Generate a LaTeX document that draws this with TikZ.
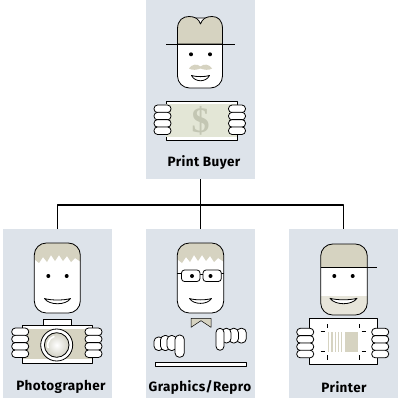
\documentclass[tikz,border=0pt]{standalone}
\usepackage{fontspec}
\setmainfont{Fira Sans}
\newfontfamily\dollarfont{Liberation Serif}
\definecolor{panel}{HTML}{DDE3EA}
\definecolor{hair}{HTML}{D6D3C1}
\definecolor{bill}{HTML}{E3E6D6}
\definecolor{dollar}{HTML}{C3C6B3}
\definecolor{chin}{HTML}{E7E5DA}
\definecolor{lens}{HTML}{D2D1C4}

% a hand seen from the side: four stacked fingers
\newcommand\handrow[2]{%
  \foreach \k in {0,1,2,3}{%
    \draw[ink, fill=white, rounded corners=3.6pt] (#1,{#2+\k*7.3}) rectangle ++(17,7.6);
  }}

\begin{document}
\begin{tikzpicture}[x=1pt,y=-1pt, line join=round,
  panelbox/.style={fill=panel, draw=none, inner sep=0pt, minimum width=109pt, anchor=north west},
  caption/.style={font=\bfseries\fontsize{13.5}{15}\selectfont\addfontfeature{LetterSpace=3}, inner sep=0pt},
  wire/.style={line width=1.1pt},
  ink/.style={line width=0.8pt, draw=black},
  thin/.style={line width=0.5pt, draw=black},
  head/.style={ink, rounded corners=12pt},
  eye/.style={fill=black}]
\useasboundingbox (0,0) rectangle (397,401);

% ---------- panels ----------
\node[panelbox, minimum height=181pt] (buyer) at (146,-2) {};
\node[panelbox, minimum height=169pt] (photo) at (3,229) {};
\node[panelbox, minimum height=169pt] (repro) at (146,229) {};
\node[panelbox, minimum height=169pt] (printer) at (289,229) {};

% ---------- connectors ----------
\coordinate (bus) at (200.5,205);
\draw[wire] (buyer.south) -- (repro.north);
\draw[wire] (photo.north) |- (bus) -| (printer.north);

% ---------- print buyer ----------
\fill[white, rounded corners=12pt] (177.5,18) rectangle (222.5,88);
\draw[head] (177.5,18) rectangle (222.5,88);
\filldraw[ink, fill=hair] (177.5,44) -- (177.5,29)
  .. controls (177.5,20) and (183,16.5) .. (189,16.5)
  .. controls (195,16.5) and (199,19) .. (200.5,24)
  .. controls (202,19) and (206,16.5) .. (212,16.5)
  .. controls (218,16.5) and (222.5,20) .. (222.5,29) -- (222.5,44) -- cycle;
\draw[ink] (166,44) -- (235,44);
\fill[eye] (191,54.3) circle[radius=2pt] (210,54.3) circle[radius=2pt];
\fill[hair] (200.5,66.5) .. controls (197,63.5) and (192,64) .. (189,68.5)
  .. controls (192,70.5) and (197,70) .. (200.5,68.5)
  .. controls (204,70) and (209,70.5) .. (212,68.5)
  .. controls (209,64) and (204,63.5) .. (200.5,66.5) -- cycle;
\filldraw[ink, fill=white] (191.5,75.5) .. controls (196,77) and (205,77) .. (209.5,75.5)
  .. controls (206,82.5) and (195,82.5) .. cycle;
% banknote
\filldraw[ink, fill=white] (166,101) rectangle (237,140);
\fill[bill] (166.4,104.5) rectangle (236.6,136.5);
\node[text=dollar, inner sep=0pt, font=\dollarfont\bfseries\fontsize{36}{36}\selectfont] (buck) at (200.5,121) {\$};
\handrow{154}{105}
\handrow{228.5}{105}
\node[caption] (buyertext) at (204,163) {Print Buyer};

% ---------- photographer ----------
\fill[white, rounded corners=12pt] (34.3,243) rectangle (80.3,313);
\begin{scope}
  \clip[rounded corners=12pt] (34.3,243) rectangle (80.3,313);
  \fill[hair] (34,243) -- (34,259) -- (39,263) -- (43,257) -- (47,262) -- (51,255)
    -- (55,261) -- (59,255) -- (63,261) -- (67,256) -- (71,262) -- (75,258) -- (81,262) -- (81,243) -- cycle;
\end{scope}
\draw[head] (34.3,243) rectangle (80.3,313);
\fill[eye] (48.3,276) circle[radius=2pt] (66.7,276) circle[radius=2pt];
\filldraw[ink, fill=white] (44.5,298.5) .. controls (51,300.5) and (64,300.5) .. (70.5,298.5)
  .. controls (66,305.5) and (49,305.5) .. cycle;
% camera
\filldraw[ink, fill=white] (43.3,319.3) rectangle (71.7,326);
\fill[white] (22.7,325) rectangle (92.7,363.3);
\fill[hair] (22.7,329) rectangle (92.7,359);
\draw[ink] (22.7,325) rectangle (92.7,363.3);
\filldraw[ink, fill=white] (56.7,345) circle[radius=16pt];
\shade[inner color=white, outer color=lens] (56.7,345) circle[radius=12.3pt];
\draw[ink] (56.7,345) circle[radius=12.3pt];
\draw[white, line width=1.6pt] (56.7,345) ++(105:9pt) arc[start angle=105, end angle=200, radius=9pt];
\handrow{11.7}{328}
\handrow{85}{328}
\node[caption] (phototext) at (61,387) {Photographer};

% ---------- graphics / repro ----------
\fill[white, rounded corners=12pt] (177.3,243) rectangle (223.7,313);
\begin{scope}
  \clip[rounded corners=12pt] (177.3,243) rectangle (223.7,313);
  \fill[hair] (177,243) -- (177,259) -- (182,263) -- (186,257) -- (190,262) -- (194,255)
    -- (198,261) -- (202,255) -- (206,261) -- (210,256) -- (214,262) -- (218,258) -- (224,262) -- (224,243) -- cycle;
\end{scope}
\draw[head] (177.3,243) rectangle (223.7,313);
% spectacles
\draw[ink] (177.3,273) -- (181.5,273) (200,274) -- (203,274) (221,273) -- (223.7,273);
\filldraw[ink, fill=white, rounded corners=3pt] (181.5,270) rectangle (200,281.5);
\filldraw[ink, fill=white, rounded corners=3pt] (203,270) rectangle (221.3,281.5);
\fill[eye] (192,276) circle[radius=2pt] (210.5,276) circle[radius=2pt];
\filldraw[ink, fill=white] (189.5,298.5) .. controls (195,300.3) and (206,300.3) .. (211.5,298.5)
  .. controls (207.5,305) and (193.5,305) .. cycle;
% bow tie
\filldraw[thin, fill=hair] (191,318.3) -- (211,318.3) -- (211,327.3) -- (201,320.7) -- (191,327.3) -- cycle;
% hands over the board
\filldraw[ink, fill=white, rounded corners=4.4pt] (154,337) rectangle (163.5,350.5);
\filldraw[ink, fill=white, rounded corners=4.4pt] (160.5,335.5) rectangle (170.3,350.5);
\filldraw[ink, fill=white, rounded corners=4.4pt] (167,335.5) rectangle (176.5,350.5);
\filldraw[ink, fill=white, rounded corners=4.4pt] (175,335) rectangle (184.3,357.3);
\filldraw[ink, fill=white, rounded corners=4.4pt] (236.5,328.3) rectangle (246.3,343);
\filldraw[ink, fill=white, rounded corners=4.4pt] (229,328.3) rectangle (238.5,343);
\filldraw[ink, fill=white, rounded corners=4.4pt] (221.8,328.3) rectangle (231,343);
\filldraw[ink, fill=white, rounded corners=4pt] (216,328.3) rectangle (224,350.3);
\filldraw[ink, fill=white] (155,362.7) rectangle (246.7,366.7);
\node[caption] (reprotext) at (200,387) {Graphics/Repro};

% ---------- printer ----------
\fill[white, rounded corners=12pt] (320.7,244) rectangle (367.3,315);
\begin{scope}
  \clip[rounded corners=12pt] (320.7,244) rectangle (367.3,315);
  \fill[hair] (320,243) rectangle (368,267.3);
  \fill[chin] (320,296) rectangle (368,316);
\end{scope}
\draw[head] (320.7,244) rectangle (367.3,315);
\draw[ink] (320.7,267.3) -- (377.3,267.3);
\fill[eye] (334.3,276) circle[radius=2pt] (352.7,276) circle[radius=2pt];
\filldraw[ink, fill=white] (330,298.3) .. controls (337,300.3) and (350,300.3) .. (357,298.3)
  .. controls (352,305.5) and (335,305.5) .. cycle;
% printed sheet
\filldraw[ink, fill=white] (309.3,318.3) rectangle (377.3,364);
\foreach \s in {327.7,331.4,334.6,337.6,340.6}{
  \fill[hair] (\s,331.7) rectangle ++(1.7,20);
}
\fill[hair] (344.7,331.7) rectangle (358.3,351.7);
% crop marks
\draw[thin] (327.7,324) -- (327.7,328.3) (359,324) -- (359,328.3)
  (327.7,355) -- (327.7,359.5) (359,355) -- (359,359.5)
  (320.7,331.7) -- (325,331.7) (361.7,331.7) -- (366,331.7)
  (320.7,351.7) -- (325,351.7) (361.7,351.7) -- (366,351.7);
\handrow{296.7}{328.3}
\handrow{371.7}{328.3}
\node[caption] (printertext) at (344,387) {Printer};
\end{tikzpicture}
\end{document}
